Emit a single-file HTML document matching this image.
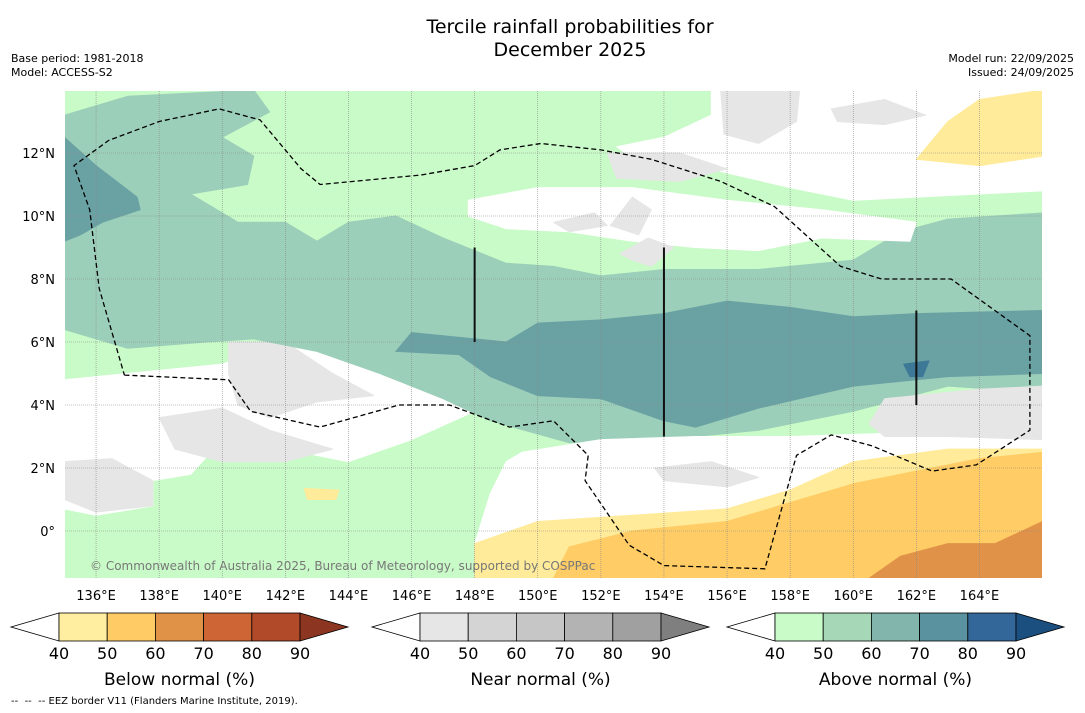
<!DOCTYPE html>
<html><head><meta charset="utf-8">
<style>
body{margin:0;background:#fff;font-family:"DejaVu Sans","Liberation Sans",sans-serif;}
#wrap{position:relative;width:1085px;height:713px;overflow:hidden;background:#fff}
.t{position:absolute;white-space:nowrap}
</style></head>
<body>
<div id="wrap">
<div class="t" style="left:0;width:1140px;top:16px;text-align:center;font-size:19px;line-height:23px;color:#000">Tercile rainfall probabilities for<br>December 2025</div>
<div class="t" style="left:11px;top:52px;font-size:11px;line-height:14px">Base period: 1981-2018<br>Model: ACCESS-S2</div>
<div class="t" style="right:11px;top:52px;font-size:11px;line-height:14px;text-align:right">Model run: 22/09/2025<br>Issued: 24/09/2025</div>
<svg id="svg" width="1085" height="713" style="position:absolute;left:0;top:0"></svg>
<div class="t" style="left:11px;top:696px;font-size:10px">-- &nbsp;-- &nbsp;-- EEZ border V11 (Flanders Marine Institute, 2019).</div>
</div>
<script>
// map region data (lon, lat)
const lonTicks=[136,138,140,142,144,146,148,150,152,154,156,158,160,162,164];
const latTicks=[0,2,4,6,8,10,12];
const whiteTopRight=[[155.5,14],[166,14],[166,10.8],[160,10.5],[158,10.9],[155,11.6],[153.5,11.5],[152.5,12.2],[154,12.5],[155.5,13.2]];
const grayTop1=[[155.8,14],[158.3,14],[158.2,13],[157,12.3],[155.9,12.6]];
const grayTop2=[[159.3,13.4],[161,13.7],[162.3,13.2],[161,12.9],[159.5,13.0]];
const grayTop3=[[152.2,12.0],[154.5,12.0],[156,11.5],[154.5,11.1],[152.5,11.2]];
const whiteBand=[[147.8,10.5],[150,10.9],[153,10.9],[156,10.5],[159,10.2],[162,9.8],[161.8,9.2],[159,9.3],[157,8.9],[155,9.0],[153,9.2],[151,9.5],[149,9.6],[147.8,10.0]];
const grayBand1=[[150.5,9.8],[151.8,10.1],[152.2,9.7],[151,9.5]];
const grayBand2=[[152.3,9.7],[153,10.6],[153.6,10.2],[153.2,9.4]];
const grayBand3=[[152.6,8.8],[153.5,9.3],[154.3,9.0],[153.6,8.4],[153,8.6]];
const whiteLeft=[[135,4.8],[137,5.0],[140,5.3],[142,6.0],[145,5.3],[147,4.4],[148,3.8],[146,2.9],[144,2.2],[142,2.6],[140,2.9],[139,1.8],[137.8,1.6],[137.8,0.8],[136,0.5],[135,0.7]];
const grayLeft1=[[135,2.2],[136.5,2.3],[137.8,1.6],[137.8,0.8],[136,0.6],[135,1.0]];
const grayLeft2=[[140.2,6.0],[142,6.0],[143.5,5.0],[144.8,4.3],[143,4.1],[141.5,3.6],[140.5,4.0],[140.2,5.0]];
const grayLeft3=[[138,3.6],[140,3.9],[141.5,3.2],[143.5,2.6],[142,2.2],[140,2.2],[138.5,2.6]];
const midGreen=[[135,13.2],[137,13.8],[141,14],[141.5,13.3],[140,12.5],[141,11.9],[140.8,11],[139,10.7],[140.5,9.8],[142,9.8],[143,9.2],[144,9.8],[145.5,10.0],[147,9.3],[149,8.5],[150.5,8.4],[152,8.1],[154,8.3],[157,8.3],[160,8.6],[161.5,9.5],[163,9.9],[166,10.1],[166,4.4],[163,4.6],[160,3.8],[157,3.2],[154,2.9],[151,2.8],[148.5,3.5],[147,4.2],[145,5.0],[143,5.7],[141,6.1],[139.5,6.0],[137,5.8],[135,6.4]];
const tealLeft=[[135,12.5],[136,11.6],[137.3,10.6],[137.4,10.2],[136.2,9.8],[135.5,9.4],[135,9.2]];
const tealMain=[[146,6.3],[149,6.0],[150,6.6],[152,6.7],[154,6.9],[156,7.3],[158,7.1],[160,6.8],[162,6.9],[166,7.0],[166,5.0],[163,4.9],[160,4.6],[157,3.9],[155,3.3],[154,3.5],[152,4.2],[150,4.3],[148.5,4.9],[147.5,5.6],[145.5,5.7]];
const darkBlob=[[161.6,5.3],[162.4,5.4],[162.2,4.9],[161.8,4.9]];
const whiteBottom=[[149.5,2.5],[152,2.9],[155,3.0],[158,3.0],[161,3.1],[166,3.0],[166,2.6],[163,2.6],[160,2.2],[158,1.3],[156,0.7],[153,0.5],[150,0.3],[148,-0.4],[148.5,1.2],[149,2.2]];
const grayRight=[[161,4.2],[164,4.5],[166,4.6],[166,2.9],[163,3.0],[161,3.0],[160.5,3.4]];
const grayBottom=[[153.7,2.0],[155.5,2.2],[157,1.7],[156,1.4],[154,1.6]];
const yellowBottom=[[148,-1.5],[148,-0.4],[150,0.3],[153,0.5],[156,0.7],[158,1.3],[160,2.2],[163,2.6],[166,2.6],[166,-1.5]];
const yellowTop=[[162,11.8],[163,13],[164,13.7],[166,14],[166,11.9],[164,11.6]];
const yellowBlob=[[142.6,1.35],[143.7,1.3],[143.6,1.0],[142.7,1.0]];
const orangeBottom=[[150.5,-1.5],[151,-0.5],[153,0.0],[156,0.3],[158,0.9],[160,1.5],[162,1.9],[164,2.3],[166,2.5],[166,-1.5]];
const darkOrange=[[160.5,-1.5],[161.5,-0.8],[163,-0.4],[164.5,-0.4],[166,0.3],[166,-1.5]];
const eezLon=[136.9,140.2,140.9,143.1,145.6,147.2,149.1,150.5,151.6,151.5,152.9,154,157.2,158.2,159.3,160.6,162.5,163.9,165.6,165.6,163.1,160.9,159.6,157.5,155.8,153.6,152,150.1,148.8,148,146.3,143.1,142.5,141.2,139.9,138,136.4,135.3,135.8,136.1,136.9];
const eezLat=[4.95,4.8,3.8,3.3,4.0,4.0,3.3,3.5,2.4,1.6,-0.45,-1.1,-1.2,2.4,3.05,2.7,1.9,2.1,3.2,6.2,8.0,8.0,8.4,10.3,11.1,11.8,12.1,12.3,12.1,11.6,11.3,11.0,11.5,13.05,13.4,13.0,12.4,11.6,10.2,7.7,4.95];
const barLons=[148,154,162];
const barLat0=[6,3,4];
const barLat1=[9,9,7];

const L=65,R=1042,T=91,B=578;
const X=lon=>64.5+(lon-135)*31.55;
const Y=lat=>531-lat*31.5;
const NS='http://www.w3.org/2000/svg';
const FF='DejaVu Sans, Liberation Sans, sans-serif';
const svg=document.getElementById('svg');
function el(tag,attrs,parent){const e=document.createElementNS(NS,tag);for(const k in attrs)e.setAttribute(k,attrs[k]);(parent||svg).appendChild(e);return e;}
const defs=el('defs',{});
const cp=el('clipPath',{id:'clip'},defs);el('rect',{x:L,y:T,width:R-L,height:B-T},cp);
const g=el('g',{'clip-path':'url(#clip)'});
const bg=el('rect',{x:L,y:T,width:R-L,height:B-T,fill:'#c9fbc8'},g);


function poly(pts,fill,name){const p=el('polygon',{points:pts.map(q=>X(q[0]).toFixed(1)+','+Y(q[1]).toFixed(1)).join(' '),fill:fill,'stroke':fill,'stroke-width':1,'stroke-linejoin':'round'},g);

}
poly(whiteTopRight,'#ffffff','white-region');
poly(grayTop1,'#e6e6e6','gray-region');poly(grayTop2,'#e6e6e6','gray-region');poly(grayTop3,'#e6e6e6','gray-region');
poly(whiteLeft,'#ffffff','white-region');
poly(grayLeft1,'#e6e6e6','gray-region');poly(grayLeft2,'#e6e6e6','gray-region');poly(grayLeft3,'#e6e6e6','gray-region');
poly(midGreen,'#9ccfb9','above-50-region');
poly(whiteBand,'#ffffff','white-region');
poly(grayBand1,'#e6e6e6','gray-region');poly(grayBand2,'#e6e6e6','gray-region');poly(grayBand3,'#e6e6e6','gray-region');
poly(tealLeft,'#6aa2a4','above-60-region');
poly(tealMain,'#6aa2a4','above-60-region');
poly(darkBlob,'#3d7896','above-70-region');
poly(whiteBottom,'#ffffff','white-region');
poly(grayRight,'#e6e6e6','gray-region');
poly(grayBottom,'#e6e6e6','gray-region');
poly(yellowBottom,'#ffeb99','below-40-region');
poly(yellowTop,'#ffeb99','below-40-region');
poly(yellowBlob,'#ffeb99','below-40-region');
poly(orangeBottom,'#ffcc66','below-50-region');
poly(darkOrange,'#e09348','below-60-region');
// grid
lonTicks.forEach(lon=>{const l=el('line',{x1:X(lon),x2:X(lon),y1:T,y2:B,stroke:'#888','stroke-width':0.6,'stroke-dasharray':'1,1'},g);


const t=el('text',{x:X(lon),y:600,'font-size':13,'text-anchor':'middle','font-family':FF});t.textContent=lon+'°E';

});
latTicks.forEach(lat=>{const l=el('line',{x1:L,x2:R,y1:Y(lat),y2:Y(lat),stroke:'#888','stroke-width':0.6,'stroke-dasharray':'1,1'},g);


const t=el('text',{x:55,y:Y(lat)+5,'font-size':13,'text-anchor':'end','font-family':FF});t.textContent=lat===0?'0°':lat+'°N';

});
// bars
barLons.forEach((lon,i)=>{const l=el('line',{x1:X(lon),x2:X(lon),y1:Y(barLat0[i]),y2:Y(barLat1[i]),stroke:'#111','stroke-width':2},g);

});
const eez=el('polyline',{points:eezLon.map((lo,i)=>X(lo).toFixed(1)+','+Y(eezLat[i]).toFixed(1)).join(' '),fill:'none',stroke:'#000','stroke-width':1.3,'stroke-dasharray':'5,3'},g);


const cr=el('text',{x:90,y:570,'font-size':12,fill:'#777','font-family':FF},g);cr.textContent='© Commonwealth of Australia 2025, Bureau of Meteorology, supported by COSPPac';


// colorbars
const barTicks=[40,50,60,70,80,90];
const cbLeftX=[59,420,775];
const cbTitles=['Below normal (%)','Near normal (%)','Above normal (%)'];
const cbColors=[['#ffffff','#ffeda0','#fecb65','#e09346','#cd6535','#b04a28','#8c3520'],['#ffffff','#e6e6e6','#d4d4d4','#c6c6c6','#b3b3b3','#a0a0a0','#7f7f7f'],['#ffffff','#c9fbc9','#a6d8b8','#82b5ab','#5a929f','#336699','#1a4f80']];
cbLeftX.forEach((x0,k)=>{const c=cbColors[k];const w=48.2,y0=613,h=28;
const cg=el('g',{});


el('polygon',{points:`${x0},${y0} ${x0-48},${y0+h/2} ${x0},${y0+h}`,fill:c[0],stroke:'#000','stroke-width':0.8},cg);
for(let i=0;i<5;i++)el('rect',{x:x0+i*w,y:y0,width:w,height:h,fill:c[i+1],stroke:'#000','stroke-width':0.8},cg);
const xe=x0+5*w;el('polygon',{points:`${xe},${y0} ${xe+48},${y0+h/2} ${xe},${y0+h}`,fill:c[6],stroke:'#000','stroke-width':0.8},cg);
barTicks.forEach((v,i)=>{const t=el('text',{x:x0+i*w,y:659,'font-size':16,'text-anchor':'middle','font-family':FF},cg);t.textContent=v;});
const tt=el('text',{x:x0+2.5*w,y:685,'font-size':17,'text-anchor':'middle','font-family':FF},cg);tt.textContent=cbTitles[k];});
</script>
</body></html>
